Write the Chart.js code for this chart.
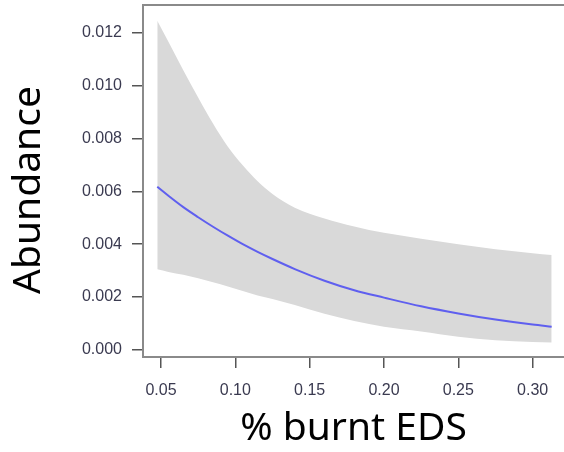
<!DOCTYPE html>
<html>
<head>
<meta charset="utf-8">
<script src="https://cdn.jsdelivr.net/npm/chart.js@4/dist/chart.umd.min.js"></script>
<style>
  html, body { margin: 0; padding: 0; background: #fff; }
  #wrap { width: 564px; height: 452px; }
</style>
</head>
<body>
<div id="wrap"><canvas id="abundanceChart"></canvas></div>
<script>
// values (x = % burnt EDS, y = abundance)
const burnt = [0.0475, 0.055, 0.065, 0.075, 0.085, 0.095, 0.105, 0.115, 0.125, 0.14, 0.16, 0.18, 0.20, 0.225, 0.25, 0.275, 0.30, 0.3128];
const fitMean = [0.00617, 0.00583, 0.00540, 0.00502, 0.00466, 0.00432, 0.00400, 0.00371, 0.00344, 0.00306, 0.00262, 0.00226, 0.00198, 0.00165, 0.00138, 0.00115, 0.00096, 0.00088];
const upperCI = [0.01245, 0.01165, 0.01058, 0.00955, 0.00856, 0.00768, 0.00698, 0.00638, 0.00590, 0.00538, 0.00497, 0.00467, 0.00443, 0.00421, 0.00400, 0.00381, 0.00366, 0.00359];
const lowerCI = [0.00305, 0.00295, 0.00284, 0.00271, 0.00256, 0.00240, 0.00223, 0.00206, 0.00193, 0.00170, 0.00137, 0.00110, 0.00088, 0.00070, 0.00050, 0.00037, 0.00030, 0.00028];

const xTicks = [0.05, 0.10, 0.15, 0.20, 0.25, 0.30];
const yTicks = [0, 0.002, 0.004, 0.006, 0.008, 0.010, 0.012];

const toPoints = (ys) => burnt.map((x, i) => ({ x: x, y: ys[i] }));

// top frame line (R style box, right side is cut off) + y axis title
const frameAndTitle = {
  id: "frameAndTitle",
  afterDraw(chart) {
    const { ctx, chartArea } = chart;
    ctx.save();
    ctx.strokeStyle = "#8a8a8a";
    ctx.lineWidth = 2;
    ctx.beginPath();
    ctx.moveTo(chartArea.left - 1, chartArea.top);
    ctx.lineTo(chartArea.right, chartArea.top);
    ctx.stroke();

    ctx.translate(29, 190);
    ctx.rotate(-Math.PI / 2);
    ctx.fillStyle = "#000";
    ctx.font = "39px 'Noto Sans'";
    ctx.textAlign = "center";
    ctx.textBaseline = "middle";
    ctx.fillText("Abundance", 0, 0);
    ctx.restore();
  },
};

const ctx = document.getElementById("abundanceChart").getContext("2d");
new Chart(ctx, {
  type: "line",
  data: {
    datasets: [
      {
        label: "fit",
        data: toPoints(fitMean),
        borderColor: "#5f5fef",
        borderWidth: 2,
        pointRadius: 0,
        cubicInterpolationMode: "monotone",
        fill: false,
      },
      {
        label: "upper",
        data: toPoints(upperCI),
        borderWidth: 0,
        borderColor: "rgba(0,0,0,0)",
        backgroundColor: "#d9d9d9",
        pointRadius: 0,
        cubicInterpolationMode: "monotone",
        fill: "+1",
      },
      {
        label: "lower",
        data: toPoints(lowerCI),
        borderWidth: 0,
        borderColor: "rgba(0,0,0,0)",
        pointRadius: 0,
        cubicInterpolationMode: "monotone",
        fill: false,
      },
    ],
  },
  options: {
    responsive: true,
    maintainAspectRatio: false,
    animation: false,
    layout: { padding: { top: 5, left: 0, right: 0, bottom: 0 } },
    plugins: {
      legend: { display: false },
      tooltip: { enabled: false },
    },
    scales: {
      x: {
        type: "linear",
        min: 0.0379,
        max: 0.3211,
        border: { display: true, color: "#8a8a8a", width: 2 },
        grid: { drawOnChartArea: false, drawTicks: true, tickLength: 11, color: "#555", lineWidth: 1.5 },
        ticks: {
          padding: 13,
          color: "#3a3a50",
          font: { family: "Liberation Sans", size: 16 },
          callback: (v) => v.toFixed(2),
        },
        afterBuildTicks: (scale) => { scale.ticks = xTicks.map((v) => ({ value: v })); },
        afterFit: (scale) => { scale.height = 95; scale.paddingLeft = 0; scale.paddingRight = 0; },
        title: {
          display: true,
          text: "% burnt EDS",
          color: "#000",
          font: { family: "Noto Sans", size: 39 },
          padding: { top: 0, bottom: 0 },
        },
      },
      y: {
        min: -0.000265,
        max: 0.013043,
        border: { display: true, color: "#8a8a8a", width: 2 },
        grid: { drawOnChartArea: false, drawTicks: true, tickLength: 11, color: "#555", lineWidth: 1.5 },
        ticks: {
          padding: 10,
          color: "#3a3a50",
          font: { family: "Liberation Sans", size: 16 },
          callback: (v) => v.toFixed(3),
        },
        afterBuildTicks: (scale) => { scale.ticks = yTicks.map((v) => ({ value: v })); },
        afterFit: (scale) => { scale.width = 143; scale.paddingTop = 0; scale.paddingBottom = 0; },
      },
    },
  },
  plugins: [frameAndTitle],
});
</script>
</body>
</html>
